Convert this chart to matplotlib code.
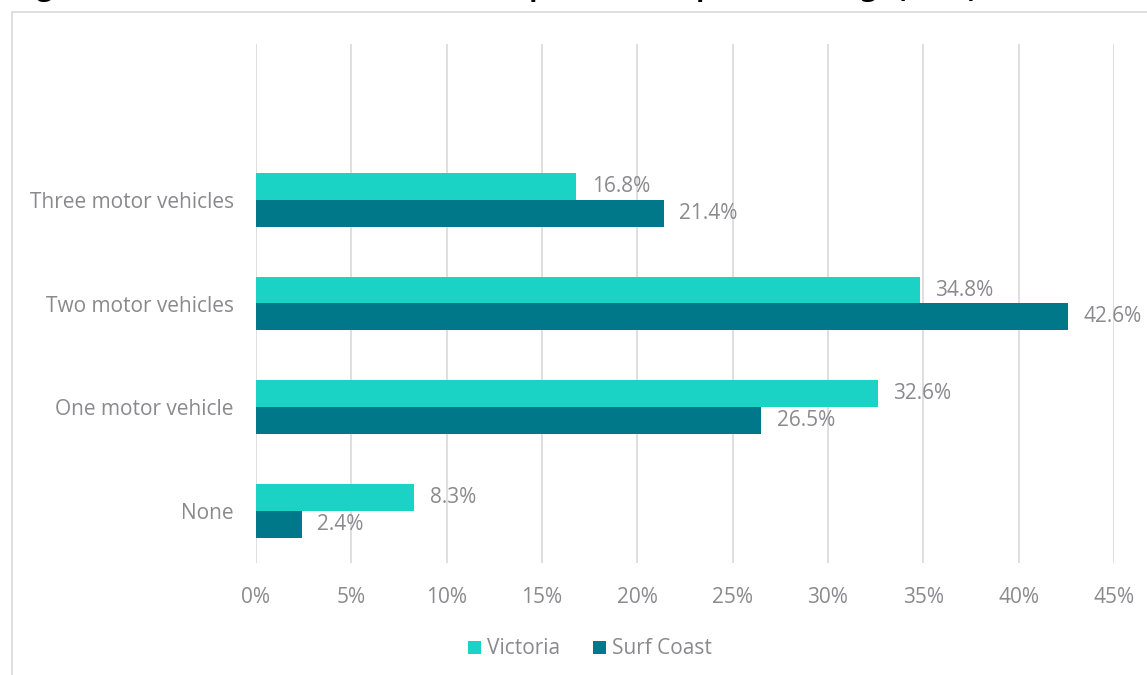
import matplotlib
matplotlib.use('Agg')
import matplotlib.pyplot as plt
from matplotlib.patches import Rectangle

categories = ['None', 'One motor vehicle', 'Two motor vehicles', 'Three motor vehicles']
victoria = [8.3, 32.6, 34.8, 16.8]
surf_coast = [2.4, 26.5, 42.6, 21.4]
series_names = ['Victoria', 'Surf Coast']
colors = ['#1AD3C5', '#007889']
x_ticks = [0, 5, 10, 15, 20, 25, 30, 35, 40, 45]

plt.rcParams['font.family'] = ['Open Sans', 'DejaVu Sans']
text_gray = '#8a8a8e'
fs = 15

fig = plt.figure(figsize=(11.47, 6.75), dpi=100)
ax = fig.add_axes([256 / 1147, 1 - 563 / 675, (1114 - 256) / 1147, (563 - 44) / 675])

# outer frame of the chart box
fig.patches.append(Rectangle((12 / 1147, -0.1), 1.2, 1 - 12 / 675 + 0.1,
                             transform=fig.transFigure, fill=False,
                             edgecolor='#d9d9d9', linewidth=1.2))
# title sits mostly above the visible area, as in the source image
fig.text(14 / 1147, 1 + 4 / 675, 'Figure 3: Number of motor vehicles in private occupied dwellings (2016)',
         fontsize=19.5, fontweight='bold', color='black', ha='left', va='baseline')

h = 0.26
ypos = list(range(len(categories)))
b1 = ax.barh([y + h / 2 for y in ypos], victoria, height=h, color=colors[0], label=series_names[0])
b2 = ax.barh([y - h / 2 for y in ypos], surf_coast, height=h, color=colors[1], label=series_names[1])

for bars, vals in [(b1, victoria), (b2, surf_coast)]:
    for bar, v in zip(bars, vals):
        ax.annotate(f'{v}%', (v, bar.get_y() + bar.get_height() / 2),
                    xytext=(11, 0), textcoords='offset points',
                    va='center', ha='left', fontsize=fs, color=text_gray)

ax.set_xlim(0, 45)
ax.set_ylim(-0.5, 4.5)
ax.set_xticks(x_ticks)
ax.set_xticklabels([f'{t}%' for t in x_ticks])
ax.set_yticks(ypos)
ax.set_yticklabels(categories)
ax.tick_params(axis='both', length=0, labelsize=fs, labelcolor=text_gray)
ax.tick_params(axis='y', pad=16)
ax.tick_params(axis='x', pad=17)
ax.grid(axis='x', color='#d9d9d9', linewidth=1.2)
ax.set_axisbelow(True)
for s in ax.spines.values():
    s.set_visible(False)

leg = fig.legend(handles=[b1, b2], labels=series_names, loc='center',
                 bbox_to_anchor=(590 / 1147, 1 - 649 / 675),
                 ncol=2, frameon=False, fontsize=fs, handlelength=0.6, handleheight=0.6,
                 handletextpad=0.3, columnspacing=1.6)
for t in leg.get_texts():
    t.set_color(text_gray)

fig.savefig('out.png', dpi=100)
